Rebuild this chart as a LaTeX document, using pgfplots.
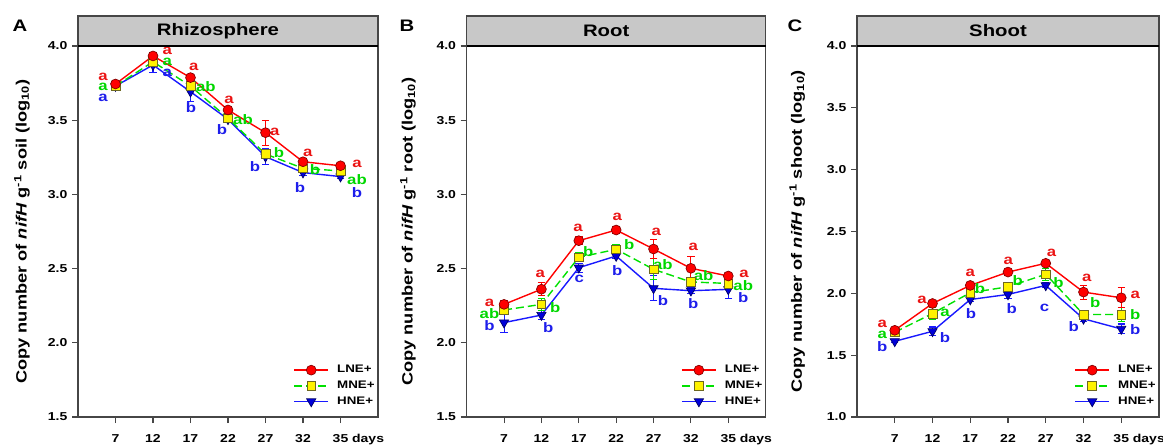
\documentclass[border=0pt]{standalone}
\usepackage{fontspec}
\setmainfont{Liberation Sans}[FakeStretch=1.22]
\usepackage{pgfplots}
\pgfplotsset{compat=1.18}

\definecolor{lne}{RGB}{255,0,0}
\definecolor{mne}{RGB}{0,225,0}
\definecolor{hne}{RGB}{25,25,255}
\definecolor{lnetext}{RGB}{235,20,20}
\definecolor{mnetext}{RGB}{0,215,0}
\definecolor{hnetext}{RGB}{30,30,235}
\definecolor{band}{RGB}{200,200,200}
\definecolor{frame}{RGB}{70,70,70}

% significance letters
\newcommand{\lab}[4]{\node[text=#1, font=\bfseries\fontsize{10.3}{11}\selectfont, inner sep=0pt] at (axis cs:#2,#3) {#4};}

% grey title strip above the plotting area, plus the panel letter
\newcommand{\strip}[3]{%
  \draw[fill=band, draw=frame, line width=0.9pt] (rel axis cs:0,1) rectangle ([yshift=22.5pt]rel axis cs:1,1);
  \draw[black, line width=1.4pt] (rel axis cs:0,1) -- (rel axis cs:1,1);
  \node[font=\bfseries\fontsize{12.5}{14}\selectfont] at ([xshift=-7.5pt, yshift=11.25pt]rel axis cs:0.5,1) {#1};
  \node[font=\bfseries\fontsize{12.5}{14}\selectfont] at ([xshift=#3, yshift=15.5pt]rel axis cs:0,1) {#2};}

\pgfplotsset{
  panel/.style={
    scale only axis, height=278.25pt,
    xmin=-1, xmax=7, xtick={0,...,6},
    xticklabels={7,12,17,22,27,32,{35\rlap{ days}}},
    tick align=outside, xtick pos=bottom, ytick pos=left,
    major tick length=4.5pt, minor tick num=0,
    axis line style={draw=frame, line width=0.9pt},
    tick style={draw=frame, line width=0.8pt},
    tick label style={font=\bfseries\fontsize{8.6}{10}\selectfont},
    xticklabel style={yshift=-5pt},
    yticklabel style={/pgf/number format/fixed, /pgf/number format/fixed zerofill,
      /pgf/number format/precision=1, /pgf/number format/assume math mode=true},
    ylabel style={at={(axis description cs:-0.187,0.5)}, anchor=center,
      font=\bfseries\fontsize{11.2}{13}\selectfont},
    clip=false,
    legend style={at={(rel axis cs:0.995,0.024)}, anchor=south east, draw=none, fill=none,
      font=\bfseries\fontsize{8.2}{9}\selectfont, row sep=2.2pt, inner sep=0pt,
      nodes={inner sep=1.2pt},
      /tikz/every odd column/.append style={column sep=5pt}},
    legend cell align=left, reverse legend,
    legend image code/.code={\draw[mark repeat=2, mark phase=2, #1]
      plot coordinates {(0pt,0pt) (12.75pt,0pt) (25.5pt,0pt)};},
  },
  lneS/.style={draw=lne, line width=1.05pt, mark=*, mark size=3.7pt,
    mark options={fill=lne, draw=red!50!black, line width=0.5pt, solid},
    error bars/y dir=both, error bars/y explicit,
    error bars/error bar style={draw=lne, line width=0.8pt, solid},
    error bars/error mark options={rotate=90, mark size=2.8pt, draw=lne, line width=0.8pt, solid}},
  mneS/.style={draw=mne, line width=1.05pt, dash pattern=on 6pt off 3pt, mark=square*, mark size=3.3pt,
    mark options={fill=yellow, draw=olive!70!black, line width=0.5pt, solid},
    error bars/y dir=both, error bars/y explicit,
    error bars/error bar style={draw=mne, line width=0.8pt, solid},
    error bars/error mark options={rotate=90, mark size=2.8pt, draw=mne, line width=0.8pt, solid}},
  hneS/.style={draw=hne, line width=1.05pt, mark=triangle*, mark size=4pt,
    mark options={rotate=180, fill=blue!85!black, draw=blue!40!black, line width=0.5pt, solid},
    error bars/y dir=both, error bars/y explicit,
    error bars/error bar style={draw=hne, line width=0.8pt, solid},
    error bars/error mark options={rotate=90, mark size=2.8pt, draw=hne, line width=0.8pt, solid}},
}

\begin{document}
\begin{tikzpicture}
\useasboundingbox (0,0) rectangle (872.25pt,334.5pt);

% ---------- A: rhizosphere ----------
\begin{axis}[panel, at={(58.5pt,21.75pt)}, anchor=south west, width=225pt,
  ymin=1.5, ymax=4.0, ytick={1.5,2.0,...,4.0},
  ylabel={Copy number of \textit{nifH} g\textsuperscript{-1} soil (log\textsubscript{10})}]
\addplot+[hneS] coordinates {(0,3.730) +- (0,0.02) (1,3.872) +- (0,0.05) (2,3.692) +- (0,0.065)
  (3,3.506) +- (0,0.02) (4,3.254) +- (0,0.055) (5,3.147) +- (0,0.02) (6,3.120) +- (0,0.015)};
\addlegendentry{HNE+}
\addplot+[mneS] coordinates {(0,3.730) +- (0,0.02) (1,3.894) +- (0,0.03) (2,3.730) +- (0,0.03)
  (3,3.513) +- (0,0.02) (4,3.272) +- (0,0.03) (5,3.176) +- (0,0.02) (6,3.158) +- (0,0.02)};
\addlegendentry{MNE+}
\addplot+[lneS] coordinates {(0,3.744) +- (0,0.02) (1,3.933) +- (0,0.025) (2,3.787) +- (0,0.02)
  (3,3.569) +- (0,0.02) (4,3.416) +- (0,0.085) (5,3.220) +- (0,0.025) (6,3.193) +- (0,0.015)};
\addlegendentry{LNE+}
\lab{lnetext}{-0.33}{3.795}{a}\lab{mnetext}{-0.33}{3.722}{a}\lab{hnetext}{-0.33}{3.648}{a}
\lab{lnetext}{1.38}{3.965}{a}\lab{mnetext}{1.38}{3.892}{a}\lab{hnetext}{1.38}{3.819}{a}
\lab{lnetext}{2.09}{3.858}{a}\lab{mnetext}{2.41}{3.724}{ab}\lab{hnetext}{2.01}{3.582}{b}
\lab{lnetext}{3.03}{3.636}{a}\lab{mnetext}{3.40}{3.501}{ab}\lab{hnetext}{2.84}{3.434}{b}
\lab{lnetext}{4.25}{3.420}{a}\lab{mnetext}{4.36}{3.279}{b}\lab{hnetext}{3.72}{3.185}{b}
\lab{lnetext}{5.13}{3.279}{a}\lab{mnetext}{5.32}{3.164}{b}\lab{hnetext}{4.92}{3.043}{b}
\lab{lnetext}{6.44}{3.205}{a}\lab{mnetext}{6.44}{3.097}{ab}\lab{hnetext}{6.44}{3.009}{b}
\strip{Rhizosphere}{A}{-43.5pt}
\end{axis}

% ---------- B: root ----------
\begin{axis}[panel, at={(350pt,21.75pt)}, anchor=south west, width=224.25pt,
  ymin=1.5, ymax=4.0, ytick={1.5,2.0,...,4.0},
  ylabel style={at={(axis description cs:-0.196,0.5)}},
  ylabel={Copy number of \textit{nifH} g\textsuperscript{-1} root (log\textsubscript{10})}]
\addplot+[hneS] coordinates {(0,2.136) +- (0,0.067) (1,2.187) +- (0,0.03) (2,2.506) +- (0,0.03)
  (3,2.585) +- (0,0.02) (4,2.367) +- (0,0.085) (5,2.351) +- (0,0.02) (6,2.360) +- (0,0.06)};
\addlegendentry{HNE+}
\addplot+[mneS] coordinates {(0,2.221) +- (0,0.03) (1,2.259) +- (0,0.04) (2,2.576) +- (0,0.03)
  (3,2.630) +- (0,0.035) (4,2.495) +- (0,0.07) (5,2.410) +- (0,0.02) (6,2.400) +- (0,0.02)};
\addlegendentry{MNE+}
\addplot+[lneS] coordinates {(0,2.259) +- (0,0.025) (1,2.361) +- (0,0.045) (2,2.688) +- (0,0.025)
  (3,2.760) +- (0,0.025) (4,2.632) +- (0,0.067) (5,2.502) +- (0,0.079) (6,2.450) +- (0,0.02)};
\addlegendentry{LNE+}
\lab{lnetext}{-0.39}{2.272}{a}\lab{mnetext}{-0.39}{2.194}{ab}\lab{hnetext}{-0.39}{2.113}{b}
\lab{lnetext}{0.97}{2.464}{a}\lab{mnetext}{1.37}{2.237}{b}\lab{hnetext}{1.18}{2.100}{b}
\lab{lnetext}{1.98}{2.774}{a}\lab{mnetext}{2.25}{2.614}{b}\lab{hnetext}{2.01}{2.430}{c}
\lab{lnetext}{3.03}{2.850}{a}\lab{mnetext}{3.35}{2.659}{b}\lab{hnetext}{3.03}{2.486}{b}
\lab{lnetext}{4.07}{2.749}{a}\lab{mnetext}{4.25}{2.524}{ab}\lab{hnetext}{4.25}{2.284}{b}
\lab{lnetext}{5.06}{2.648}{a}\lab{mnetext}{5.34}{2.450}{ab}\lab{hnetext}{5.06}{2.261}{b}
\lab{lnetext}{6.42}{2.462}{a}\lab{mnetext}{6.40}{2.383}{ab}\lab{hnetext}{6.40}{2.303}{b}
\strip{Root}{B}{-44.8pt}
\end{axis}

% ---------- C: shoot ----------
\begin{axis}[panel, at={(642.75pt,21.75pt)}, anchor=south west, width=226.5pt,
  ymin=1.0, ymax=4.0, ytick={1.0,1.5,...,4.0},
  ylabel style={at={(axis description cs:-0.198,0.5)}},
  ylabel={Copy number of \textit{nifH} g\textsuperscript{-1} shoot (log\textsubscript{10})}]
\addplot+[hneS] coordinates {(0,1.612) +- (0,0.01) (1,1.693) +- (0,0.035) (2,1.950) +- (0,0.015)
  (3,1.991) +- (0,0.03) (4,2.064) +- (0,0.02) (5,1.794) +- (0,0.025) (6,1.712) +- (0,0.04)};
\addlegendentry{HNE+}
\addplot+[mneS] coordinates {(0,1.685) +- (0,0.015) (1,1.837) +- (0,0.05) (2,2.005) +- (0,0.03)
  (3,2.053) +- (0,0.035) (4,2.154) +- (0,0.05) (5,1.829) +- (0,0.035) (6,1.829) +- (0,0.06)};
\addlegendentry{MNE+}
\addplot+[lneS] coordinates {(0,1.701) +- (0,0.015) (1,1.918) +- (0,0.015) (2,2.064) +- (0,0.02)
  (3,2.172) +- (0,0.015) (4,2.243) +- (0,0.02) (5,2.010) +- (0,0.057) (6,1.964) +- (0,0.081)};
\addlegendentry{LNE+}
\lab{lnetext}{-0.33}{1.757}{a}\lab{mnetext}{-0.33}{1.666}{a}\lab{hnetext}{-0.33}{1.571}{b}
\lab{lnetext}{0.72}{1.950}{a}\lab{mnetext}{1.33}{1.842}{a}\lab{hnetext}{1.33}{1.639}{b}
\lab{lnetext}{2.00}{2.167}{a}\lab{mnetext}{2.26}{2.037}{b}\lab{hnetext}{2.02}{1.837}{b}
\lab{lnetext}{3.01}{2.262}{a}\lab{mnetext}{3.26}{2.107}{b}\lab{hnetext}{3.10}{1.875}{b}
\lab{lnetext}{4.15}{2.324}{a}\lab{mnetext}{4.34}{2.086}{b}\lab{hnetext}{3.97}{1.883}{c}
\lab{lnetext}{5.09}{2.127}{a}\lab{mnetext}{5.31}{1.929}{b}\lab{hnetext}{4.74}{1.729}{b}
\lab{lnetext}{6.37}{1.991}{a}\lab{mnetext}{6.37}{1.829}{b}\lab{hnetext}{6.37}{1.707}{b}
\strip{Shoot}{C}{-46.5pt}
\end{axis}
\end{tikzpicture}
\end{document}
